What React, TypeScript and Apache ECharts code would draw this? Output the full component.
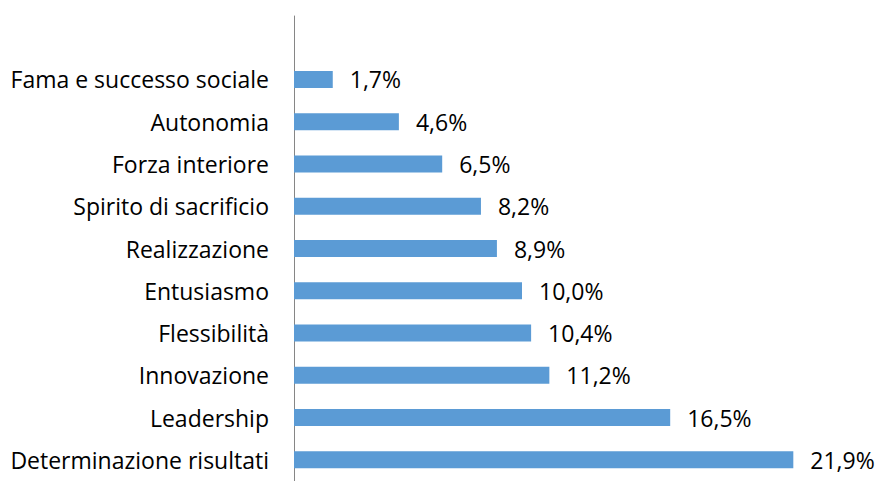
import React, { useEffect, useRef } from "react";
import * as echarts from "echarts";

// bottom-to-top order
const categories = [
  "Determinazione risultati",
  "Leadership",
  "Innovazione",
  "Flessibilità",
  "Entusiasmo",
  "Realizzazione",
  "Spirito di sacrificio",
  "Forza interiore",
  "Autonomia",
  "Fama e successo sociale",
];
const values = [21.9, 16.5, 11.2, 10.4, 10.0, 8.9, 8.2, 6.5, 4.6, 1.7];

const FONT = "Open Sans";

export default function App() {
  const ref = useRef<HTMLDivElement>(null);
  useEffect(() => {
    const chart = echarts.init(ref.current!, null, { renderer: "svg" });
    chart.setOption({
      animation: false,
      grid: { left: 294, right: 12, top: 16, bottom: -7, containLabel: false },
      xAxis: { type: "value", min: 0, max: 25, show: false },
      yAxis: {
        type: "category",
        data: categories,
        max: categories.length,
        axisLine: { show: true, lineStyle: { color: "#868686", width: 1 } },
        axisTick: { show: false },
        splitLine: { show: false },
        axisLabel: {
          margin: 25,
          fontFamily: FONT,
          fontSize: 23,
          color: "#000",
          formatter: (v: string) => (categories.indexOf(v) >= 0 ? v : ""),
        },
      },
      series: [
        {
          type: "bar",
          barWidth: 17,
          itemStyle: { color: "#5B9BD5" },
          data: values,
          label: {
            show: true,
            position: "right",
            distance: 17,
            fontFamily: FONT,
            fontSize: 23,
            color: "#000",
            formatter: (p: any) => p.value.toFixed(1).replace(".", ",") + "%",
          },
        },
      ],
    });
    return () => chart.dispose();
  }, []);
  return (
    <div
      ref={ref}
      style={{ position: "fixed", left: 0, top: 0, width: 876, height: 481, background: "#fff" }}
    />
  );
}
